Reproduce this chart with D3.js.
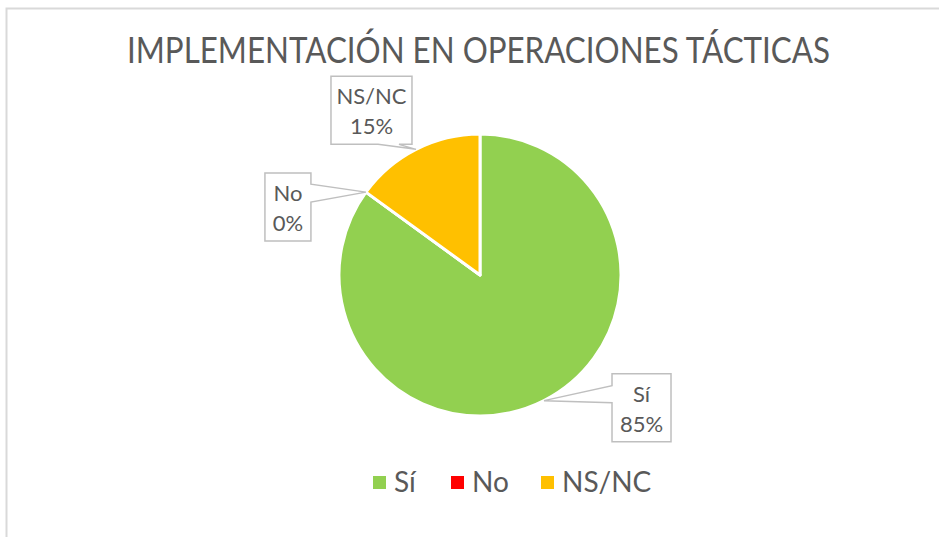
<!DOCTYPE html>
<html>
<head>
<meta charset="utf-8">
<script src="https://cdn.jsdelivr.net/npm/d3@7"></script>
<style>
    body { margin: 0; background: #fff; }
    text { font-family: Lato, "Open Sans", sans-serif; fill: #595959; }
</style>
</head>
<body>
<svg id="chart" width="939" height="537"></svg>
<script>
// data
var categories = ["Sí", "No", "NS/NC"];
var values = [85, 0, 15];
var colors = ["#92d050", "#ff0000", "#ffc000"];
var chartTitle = "IMPLEMENTACIÓN EN OPERACIONES TÁCTICAS";

var svg = d3.select("#chart");
var width = 939, height = 537;

// chart area frame (only top and left edges fall inside the picture)
svg.append("rect")
    .attr("x", 6.5).attr("y", 8.5)
    .attr("width", 960).attr("height", 560)
    .attr("fill", "none")
    .attr("stroke", "#d9d9d9")
    .attr("stroke-width", 2);

svg.append("text")
    .attr("x", 478.5).attr("y", 63)
    .attr("text-anchor", "middle")
    .attr("font-size", 36)
    .attr("textLength", 703)
    .attr("lengthAdjust", "spacingAndGlyphs")
    .text(chartTitle);

var cx = 480, cy = 275, radius = 141;

var data = categories.map(function(c, i) {
    return { name: c, value: values[i], color: colors[i] };
});

var pie = d3.pie()
    .sort(null)
    .value(function(d) { return d.value; });
var arcs = pie(data);

var arc = d3.arc().innerRadius(0).outerRadius(radius);

var g = svg.append("g").attr("transform", "translate(" + cx + "," + cy + ")");

g.selectAll("path.slice")
    .data(arcs)
    .enter()
    .append("path")
    .attr("class", "slice")
    .attr("d", arc)
    .attr("fill", function(d) { return d.data.color; })
    .attr("stroke", "#fff")
    .attr("stroke-width", 3)
    .attr("stroke-linejoin", "round");

// callout labels: box offset relative to the tip on the slice edge
// side = where the pointer leaves the box
var callouts = [
    { dx: 68, dy: -27, w: 59, h: 68, side: "left", base: [-15, 2] },
    { dx: -101, dy: -19, w: 46, h: 68, side: "right", base: [-8, 10] },
    { dx: -85, dy: -73, w: 81, h: 68, side: "bottom", base: [-38, -17] }
];

function tipPoint(d) {
    var a = (d.startAngle + d.endAngle) / 2;
    return [cx + radius * Math.sin(a), cy - radius * Math.cos(a)];
}

arcs.forEach(function(d, i) {
    var c = callouts[i];
    var t = tipPoint(d);
    var x0 = t[0] + c.dx, y0 = t[1] + c.dy;
    var x1 = x0 + c.w, y1 = y0 + c.h;
    var p;
    if (c.side === "left") {
        p = [[x0, y0], [x1, y0], [x1, y1], [x0, y1],
             [x0, t[1] + c.base[1]], t, [x0, t[1] + c.base[0]]];
    } else if (c.side === "right") {
        p = [[x0, y0], [x1, y0], [x1, t[1] + c.base[0]], t,
             [x1, t[1] + c.base[1]], [x1, y1], [x0, y1]];
    } else {
        p = [[x0, y0], [x1, y0], [x1, y1], [t[0] + c.base[1], y1], t,
             [t[0] + c.base[0], y1], [x0, y1]];
    }
    svg.append("path")
        .attr("d", "M" + p.map(function(q) { return q[0] + "," + q[1]; }).join("L") + "Z")
        .attr("fill", "#fff")
        .attr("stroke", "#bfbfbf")
        .attr("stroke-width", 1.5);

    var lbl = svg.append("text")
        .attr("text-anchor", "middle")
        .attr("font-size", 22);
    lbl.append("tspan")
        .attr("x", (x0 + x1) / 2).attr("y", y0 + 28)
        .text(d.data.name);
    lbl.append("tspan")
        .attr("x", (x0 + x1) / 2).attr("y", y0 + 58)
        .text(Math.round(d.data.value / d3.sum(values) * 100) + "%");
});

// legend
var legendX = [373, 451, 541];
var legend = svg.append("g");
data.forEach(function(d, i) {
    legend.append("rect")
        .attr("x", legendX[i]).attr("y", 476)
        .attr("width", 13).attr("height", 13)
        .attr("fill", d.color);
    legend.append("text")
        .attr("x", legendX[i] + 21).attr("y", 492)
        .attr("font-size", 28)
        .text(d.name);
});
</script>
</body>
</html>
